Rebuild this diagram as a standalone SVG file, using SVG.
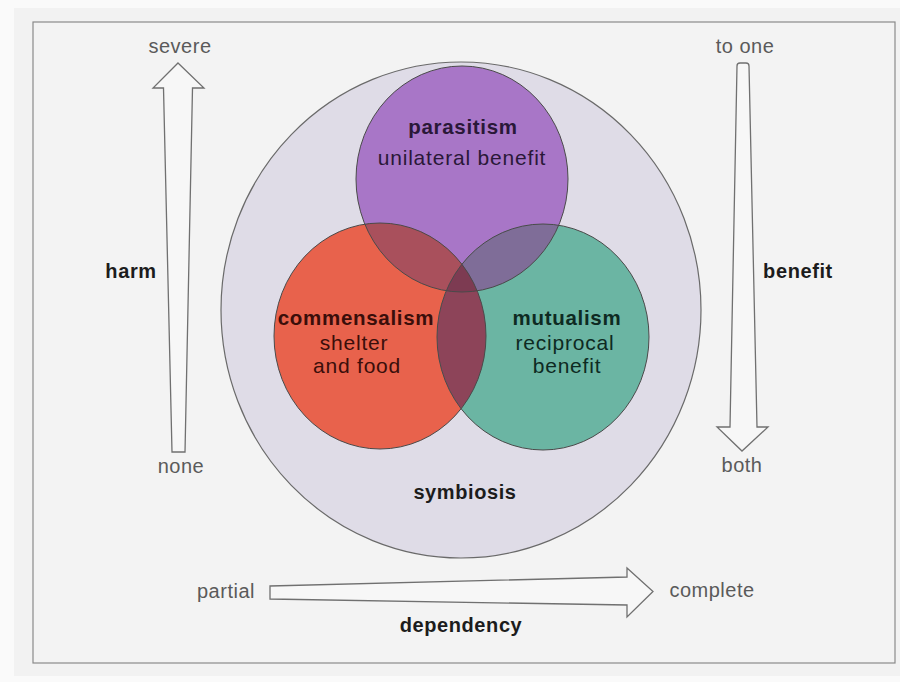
<svg xmlns="http://www.w3.org/2000/svg" width="900" height="682" viewBox="0 0 900 682">
<style>
  .lbl { font-family: "Liberation Sans", Arial, sans-serif; font-size: 20px; fill: #5a5a5a; letter-spacing: 0.5px; text-anchor: middle; }
  .bold { font-family: "Liberation Sans", Arial, sans-serif; font-size: 20px; font-weight: bold; fill: #1c1c1c; letter-spacing: 0.6px; text-anchor: middle; }
  .inb { font-family: "Liberation Sans", Arial, sans-serif; font-size: 20.5px; font-weight: bold; letter-spacing: 0.7px; text-anchor: middle; }
  .inr { font-family: "Liberation Sans", Arial, sans-serif; font-size: 21px; letter-spacing: 0.8px; text-anchor: middle; }
  .arrow { fill: #f7f7f7; stroke: #707070; stroke-width: 1.3; stroke-linejoin: miter; }
  .ring { fill: none; stroke: #4a4a4a; stroke-width: 1; }
</style>
<defs>
  <ellipse id="ePar" cx="462" cy="179" rx="106" ry="113"/>
  <ellipse id="eCom" cx="380" cy="336" rx="106" ry="113"/>
  <ellipse id="eMut" cx="543" cy="337" rx="106" ry="113"/>
  <clipPath id="cPar"><use href="#ePar"/></clipPath>
  <clipPath id="cCom"><use href="#eCom"/></clipPath>
  <clipPath id="cMut"><use href="#eMut"/></clipPath>
</defs>
<rect x="0" y="0" width="900" height="682" fill="#fafafa"/>
<rect x="14" y="8" width="886" height="668" fill="#f2f2f2"/>
<rect id="frame" x="33" y="22" width="862" height="641" fill="#f3f3f3" stroke="#8a8a8a" stroke-width="1.2"/>

<g id="symbiosis">
  <ellipse cx="461" cy="310" rx="240" ry="248" fill="#dfdce7" stroke="#6a6a6a" stroke-width="1.2"/>
  <text class="bold" x="465" y="499">symbiosis</text>
</g>

<g id="parasitism">
  <use href="#ePar" fill="#a876c7"/>
</g>
<g id="commensalism">
  <use href="#eCom" fill="#e8624c"/>
</g>
<g id="mutualism">
  <use href="#eMut" fill="#6bb5a3"/>
</g>
<g id="overlaps">
  <use href="#eCom" fill="#a9505c" clip-path="url(#cPar)"/>
  <use href="#eMut" fill="#7f6d98" clip-path="url(#cPar)"/>
  <use href="#eMut" fill="#8d4459" clip-path="url(#cCom)"/>
  <g clip-path="url(#cMut)"><use href="#eCom" fill="#7d3b52" clip-path="url(#cPar)"/></g>
</g>
<g id="outlines">
  <use href="#ePar" class="ring"/>
  <use href="#eCom" class="ring"/>
  <use href="#eMut" class="ring"/>
</g>
<g id="labels-inner">
  <text class="inb" x="463" y="134" fill="#2a1838">parasitism</text>
  <text class="inr" x="462" y="165" fill="#2a1838">unilateral benefit</text>
  <text class="inb" x="356" y="325" fill="#3a0e0a">commensalism</text>
  <text class="inr" x="354" y="350" fill="#3a0e0a">shelter</text>
  <text class="inr" x="357" y="373" fill="#3a0e0a">and food</text>
  <text class="inb" x="567" y="325" fill="#0e2a22">mutualism</text>
  <text class="inr" x="565" y="350" fill="#0e2a22">reciprocal</text>
  <text class="inr" x="567" y="373" fill="#0e2a22">benefit</text>
</g>

<g id="connectors">
  <path class="arrow" d="M178,63 L204,88 L192.5,88 L185,452 L172,452 L163.5,88 L153,88 Z"/>
  <path class="arrow" d="M737,66 Q737,63 740,63 L746,63 Q749,63 749,66 L757,427 L768,427 L742,451 L717,427 L730,427 Z"/>
  <path class="arrow" d="M270,586 L627,577 L627,568 L653,591.5 L627,617 L627,605 L270,599 Z"/>
</g>

<g id="axis-labels">
  <text class="lbl" x="180" y="53">severe</text>
  <text class="lbl" x="181" y="473">none</text>
  <text class="bold" x="131" y="278">harm</text>
  <text class="lbl" x="745" y="53">to one</text>
  <text class="lbl" x="742" y="472">both</text>
  <text class="bold" x="798" y="278">benefit</text>
  <text class="lbl" x="226" y="598">partial</text>
  <text class="lbl" x="712" y="597">complete</text>
  <text class="bold" x="461" y="632">dependency</text>
</g>
</svg>
